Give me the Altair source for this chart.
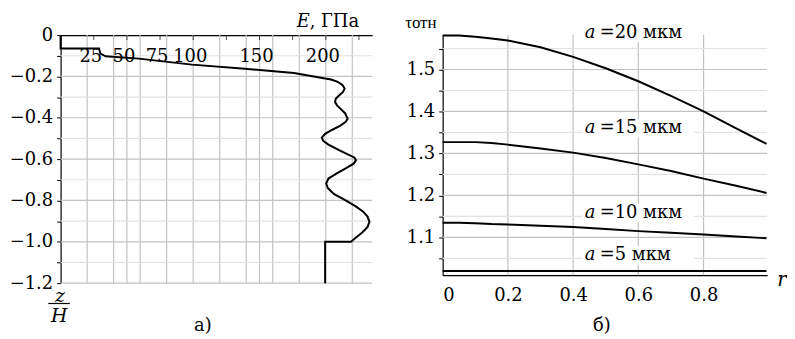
import altair as alt
import pandas as pd

SERIF = "DejaVu Serif"
GRID = "#c2c2c2"
GRID_MINOR = "#e2e2e2"

# ---------------- panel а): E (GPa) versus z/H ----------------
E_gpa = [0, 0, 29, 30, 34, 59, 99, 139, 176, 199.5,
         204, 209, 212.7, 214.2, 213, 210, 207.5, 207, 208.5, 211,
         214.5, 216.5, 215, 211, 205, 199.5, 197, 198, 202, 210,
         217, 221.5, 222.8, 221, 215, 208, 202, 200.3, 201.5, 206,
         214, 222, 228, 231.5, 232.9, 231.5, 227.5, 223, 219, 199.5, 199.5]
z_H = [0, -0.065, -0.065, -0.09, -0.103, -0.114, -0.143, -0.163, -0.184, -0.210,
       -0.215, -0.226, -0.243, -0.259, -0.275, -0.292, -0.308, -0.324, -0.340, -0.356,
       -0.378, -0.404, -0.420, -0.438, -0.458, -0.478, -0.496, -0.512, -0.530, -0.557,
       -0.578, -0.592, -0.605, -0.622, -0.645, -0.670, -0.694, -0.718, -0.740, -0.768,
       -0.796, -0.826, -0.853, -0.878, -0.903, -0.928, -0.955, -0.978, -1.0, -1.0, -1.2]
grid_E = [20, 40, 50, 60, 80, 100, 120, 140, 150, 160, 180, 200, 220]
ticks_E = [25, 50, 75, 100, 125, 150, 175, 200, 225]
labels_E = [25, 50, 75, 100, 150, 200]
z_major = [-0.2, -0.4, -0.6, -0.8, -1.0, -1.2]
z_minor = [-0.1, -0.3, -0.5, -0.7, -0.9, -1.1]
z_axis_values = [0, -0.1, -0.2, -0.3, -0.4, -0.5, -0.6, -0.7, -0.8, -0.9, -1.0, -1.1, -1.2]

# ---------------- panel б): tau_otn versus r ----------------
r_vals = [0, 0.05, 0.1, 0.15, 0.2, 0.3, 0.4, 0.5, 0.6, 0.7, 0.8, 0.9, 0.993]
tau_20 = [1.581, 1.581, 1.578, 1.574, 1.569, 1.553, 1.530, 1.503, 1.472, 1.437, 1.400, 1.360, 1.323]
tau_15 = [1.327, 1.327, 1.327, 1.325, 1.321, 1.312, 1.302, 1.289, 1.274, 1.258, 1.240, 1.223, 1.206]
tau_10 = [1.135, 1.135, 1.134, 1.132, 1.131, 1.128, 1.125, 1.120, 1.115, 1.111, 1.107, 1.102, 1.098]
tau_5 = [1.020] * 13
series_names = ["20", "15", "10", "5"]
grid_r = [0.2, 0.4, 0.6, 0.8]
tau_major = [1.1, 1.2, 1.3, 1.4, 1.5]
tau_minor = [1.05, 1.15, 1.25, 1.35, 1.45, 1.55]
tau_axis_values = [1.05, 1.1, 1.15, 1.2, 1.25, 1.3, 1.35, 1.4, 1.45, 1.5, 1.55]
r_axis_values = [0, 0.2, 0.4, 0.6, 0.8]
label_r = [0.436, 0.436, 0.436, 0.436]
label_tau = [1.587, 1.360, 1.158, 1.057]
label_rest = ["=20 мкм", "=15 мкм", "=10 мкм", "=5 мкм"]

# ---------------- scales and axes ----------------
xL = alt.Scale(domain=[0, 235], nice=False, zero=False)
yL = alt.Scale(domain=[-1.2, 0], nice=False, zero=False)
xR = alt.Scale(domain=[0, 0.995], nice=False, zero=False)
yR = alt.Scale(domain=[1.01, 1.582], nice=False, zero=False)

WL, HL = 314, 250
WR, HR = 327, 242

lab_style = dict(labelFont=SERIF, labelFontSize=18, labelColor="black")

axis_top_L = alt.Axis(orient="top", labels=False, ticks=False, grid=False, domain=True, title=None,
                      domainColor="black", domainWidth=1.2)
axis_left_L = alt.Axis(
    orient="left", values=z_axis_values, grid=False, title=None, tickSize=4, labelPadding=4,
    domainColor="black", tickColor="black", domainWidth=1.2, **lab_style,
    labelExpr="datum.value == 0 ? '0' : (abs(round(datum.value*10)) % 2 == 0 ? format(datum.value, '.1f') : '')")
axis_bottom_R = alt.Axis(
    orient="bottom", values=r_axis_values, grid=False, title=None, ticks=False, labelPadding=11,
    domainColor="black", domainWidth=1.2, **lab_style,
    labelExpr="datum.value == 0 ? '0' : format(datum.value, '.1f')")
axis_left_R = alt.Axis(
    orient="left", values=tau_axis_values, grid=False, title=None, tickSize=4, labelPadding=4,
    domainColor="black", tickColor="black", domainWidth=1.2, **lab_style,
    labelExpr="round(datum.value*100) % 10 == 0 ? format(datum.value, '.1f') : ''")


def XL(f):
    return alt.X(f, scale=xL, axis=axis_top_L)


def YL(f):
    return alt.Y(f, scale=yL, axis=axis_left_L)


def XR(f):
    return alt.X(f, scale=xR, axis=axis_bottom_R)


def YR(f):
    return alt.Y(f, scale=yR, axis=axis_left_R)


def note(text, x, y, size=18, italic=False, align="center", baseline="alphabetic", font=SERIF):
    return alt.Chart(pd.DataFrame({"t": [text]})).mark_text(
        font=font, fontSize=size, fontStyle="italic" if italic else "normal",
        align=align, baseline=baseline, color="black"
    ).encode(text="t:N", x=alt.value(x), y=alt.value(y))


# ---- left panel layers ----
curve_df = pd.DataFrame({"E": E_gpa, "z": z_H, "i": list(range(len(E_gpa)))})

gridV_L = alt.Chart(pd.DataFrame({"g": grid_E})).mark_rule(color=GRID, strokeWidth=1.2).encode(
    x=XL("g:Q"))
gridH_L_min = alt.Chart(pd.DataFrame({"h": z_minor})).mark_rule(color=GRID_MINOR, strokeWidth=1.2).encode(
    y=YL("h:Q"))
gridH_L_maj = alt.Chart(pd.DataFrame({"h": z_major})).mark_rule(color=GRID, strokeWidth=1.2).encode(
    y=YL("h:Q"))

curve_L = alt.Chart(curve_df).mark_line(color="black", strokeWidth=2).encode(
    x=XL("E:Q"), y=YL("z:Q"), order="i:Q")

ticks_L = alt.Chart(pd.DataFrame({"t": ticks_E})).mark_tick(color="black", size=5, thickness=1).encode(
    x=XL("t:Q"), y=alt.value(2.5))

xlabels_L = alt.Chart(pd.DataFrame({"v": labels_E})).mark_text(
    font=SERIF, fontSize=18, color="black", baseline="middle", dx=-3).encode(
    x=XL("v:Q"), y=alt.value(22), text="v:Q")

left = alt.layer(
    gridV_L, gridH_L_min, gridH_L_maj, curve_L, ticks_L, xlabels_L,
    note("E", 251, -8.5, italic=True, align="right"),
    note(", ГПа", 251, -8.5, align="left"),
    note("z", -0.7, 263, size=19, italic=True, baseline="middle"),
    alt.Chart(pd.DataFrame({"a": [0]})).mark_rule(color="black", strokeWidth=1.2).encode(
        x=alt.value(-12.4), x2=alt.value(9.3), y=alt.value(270.5)),
    note("H", -1.5, 283, size=19, italic=True, baseline="middle"),
    note("а)", 143.3, 298.5),
).properties(width=WL, height=HL)

# ---- right panel layers ----
rows = []
for name, vals in zip(series_names, [tau_20, tau_15, tau_10, tau_5]):
    for rv, tv in zip(r_vals, vals):
        rows.append({"r": rv, "tau": tv, "a": name})
tau_df = pd.DataFrame(rows)

lab_df = pd.DataFrame({"r": label_r, "tau": label_tau, "rest": label_rest})
lab_df["r0"] = lab_df["r"] - 0.006
lab_df["r1"] = lab_df["r"] + 0.335
lab_df["t0"] = lab_df["tau"] - 0.022
lab_df["t1"] = lab_df["tau"] + 0.022

gridV_R = alt.Chart(pd.DataFrame({"g": grid_r})).mark_rule(color=GRID, strokeWidth=1.2).encode(
    x=XR("g:Q"))
gridH_R_min = alt.Chart(pd.DataFrame({"h": tau_minor})).mark_rule(color=GRID_MINOR, strokeWidth=1.2).encode(
    y=YR("h:Q"))
gridH_R_maj = alt.Chart(pd.DataFrame({"h": tau_major})).mark_rule(color=GRID, strokeWidth=1.2).encode(
    y=YR("h:Q"))

boxes_R = alt.Chart(lab_df).mark_rect(color="white").encode(
    x=XR("r0:Q"), x2="r1:Q", y=YR("t0:Q"), y2="t1:Q")

curves_R = alt.Chart(tau_df).mark_line(color="black", strokeWidth=2).encode(
    x=XR("r:Q"), y=YR("tau:Q"), detail="a:N")

lab_a = alt.Chart(lab_df).mark_text(font=SERIF, fontSize=18, fontStyle="italic", align="left",
                                    baseline="middle", color="black").encode(
    x=XR("r:Q"), y=YR("tau:Q"), text=alt.value("a"))
lab_rest = alt.Chart(lab_df).mark_text(font=SERIF, fontSize=18, align="left", baseline="middle",
                                       color="black", dx=15).encode(
    x=XR("r:Q"), y=YR("tau:Q"), text="rest:N")

right = alt.layer(
    gridV_R, gridH_R_min, gridH_R_maj, boxes_R, curves_R, lab_a, lab_rest,
    note("τотн", -22, -7.3, size=17, font="Liberation Serif"),
    note("r", 342, 246.7, size=20, italic=True, baseline="middle"),
    note("б)", 160.5, 298),
).properties(width=WR, height=HR)

chart = alt.hconcat(left, right, spacing=71, bounds="flush").configure_view(
    stroke=None
).properties(padding={"left": 1, "top": 3, "right": 0, "bottom": 0}, background="white")

chart.save("out.html", embed_options={"renderer": "svg", "actions": False})
